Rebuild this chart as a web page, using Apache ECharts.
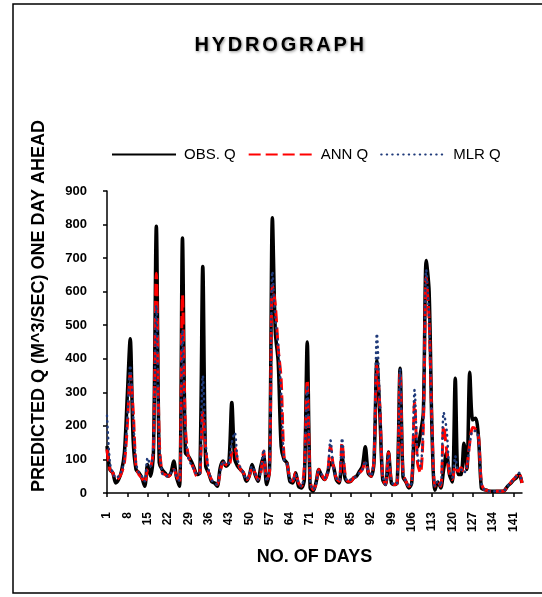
<!DOCTYPE html>
<html>
<head>
<meta charset="utf-8">
<script src="https://cdn.jsdelivr.net/npm/echarts@6/dist/echarts.min.js"></script>
<style>html,body{margin:0;padding:0;background:#fff}#c{width:542px;height:597px}</style>
</head>
<body>
<div id="c"></div>
<script>
var days = [];
for (var d = 1; d <= 144; d++) days.push(String(d));

var titleText = 'HYDROGRAPH';

var obsQ = [140,70,60,30,40,65,120,290,460,160,
70,60,45,20,85,50,120,795,90,70,
60,50,60,95,45,20,760,120,110,95,
75,55,60,675,80,60,35,30,20,75,
95,80,90,270,100,80,70,60,35,50,
85,55,35,80,110,25,70,820,480,390,
140,100,90,35,30,60,20,15,40,450,
15,5,30,70,50,40,60,90,80,40,
30,108,45,33,35,45,50,65,80,138,
60,50,90,395,240,40,25,122,30,25,
30,372,48,33,15,30,167,137,178,240,
693,600,180,8,33,15,70,120,55,33,
342,55,55,148,70,360,218,223,167,15,
10,8,5,5,5,5,5,8,20,28,
38,45,55,30];

var annQ = [130,70,60,40,45,60,90,200,355,250,
80,55,45,30,70,75,130,655,160,60,
55,50,55,70,50,30,590,200,110,90,
70,50,55,240,135,60,40,30,25,60,
90,85,80,120,135,95,70,60,40,50,
75,60,40,60,125,40,60,620,560,430,
340,110,90,45,35,60,30,20,80,337,
40,10,25,70,55,40,60,140,80,45,
35,150,60,35,35,45,50,60,70,92,
65,50,100,380,260,45,25,120,35,25,
30,360,60,35,20,30,270,90,60,200,
643,515,200,20,33,20,200,130,60,40,
80,65,75,62,80,150,195,190,170,30,
10,8,5,5,5,5,5,8,20,30,
40,50,60,30];

var mlrQ = [230,90,60,45,50,65,100,220,380,230,
90,60,50,35,105,80,140,560,150,60,
50,50,60,70,50,35,485,180,105,85,
70,55,60,350,150,70,40,30,25,65,
95,85,90,150,180,100,75,60,40,55,
80,60,40,65,130,35,70,660,520,440,
300,100,90,40,35,55,30,20,70,320,
35,10,25,65,55,45,60,157,75,45,
35,163,55,35,40,45,50,60,70,95,
65,50,110,475,270,50,25,115,35,25,
30,370,60,35,20,30,307,110,80,220,
665,520,190,20,35,20,240,190,70,45,
110,70,70,60,80,145,185,185,165,30,
10,8,5,5,5,5,5,8,20,30,
40,50,60,30];

var FONT = 'Liberation Sans, Arial, Helvetica, sans-serif';
var titleRich = titleText.split('').map(function (ch) { return '{l|' + ch + '}'; }).join('');
var chart = echarts.init(document.getElementById('c'), null, {renderer: 'canvas'});
chart.setOption({
  animation: false,
  backgroundColor: '#fff',
  title: {
    text: titleRich,
    left: 193, top: 35, padding: 0,
    textStyle: {
      rich: {
        l: {fontFamily: FONT, fontSize: 20, fontWeight: 'bold', color: '#000', padding: [0, 1.4, 0, 1.4],
            textShadowColor: 'rgba(0,0,0,0.45)', textShadowBlur: 3, textShadowOffsetX: 1, textShadowOffsetY: 1}
      }
    }
  },
  legend: {
    left: 111, top: 147, padding: 0,
    itemWidth: 64, itemHeight: 14, itemGap: 12,
    itemStyle: {opacity: 0},
    textStyle: {fontFamily: FONT, fontSize: 15, color: '#000', padding: [0, 0, 0, 3]},
    data: ['OBS. Q', 'ANN Q', 'MLR Q']
  },
  grid: {left: 107, top: 191, right: 20, bottom: 104, containLabel: false},
  xAxis: {
    type: 'category', data: days, boundaryGap: false,
    axisLine: {lineStyle: {color: '#000', width: 1.5}},
    axisTick: {interval: 6, length: 4, lineStyle: {color: '#000', width: 1.5}},
    axisLabel: {interval: 6, rotate: 90, margin: 19, fontFamily: FONT, fontSize: 12, fontWeight: 'bold', color: '#000'},
    name: 'NO. OF DAYS', nameLocation: 'middle', nameGap: 55,
    nameTextStyle: {fontFamily: FONT, fontSize: 18, fontWeight: 'bold', color: '#000'}
  },
  yAxis: {
    type: 'value', min: 0, max: 900, interval: 100,
    splitLine: {show: false},
    axisLine: {show: true, lineStyle: {color: '#000', width: 1.5}},
    axisTick: {show: true, length: 4, lineStyle: {color: '#000', width: 1.5}},
    axisLabel: {margin: 20, fontFamily: FONT, fontSize: 13, fontWeight: 'bold', color: '#000'}
  },
  graphic: [
    {type: 'rect', shape: {x: 13, y: 4, width: 560, height: 589}, style: {fill: 'none', stroke: '#000', lineWidth: 1.5}, silent: true, z: -1},
    {type: 'text', x: 39, y: 306, rotation: Math.PI / 2,
     style: {text: 'PREDICTED Q (M^3/SEC) ONE DAY AHEAD', fontFamily: FONT, fontSize: 18, fontWeight: 'bold', fill: '#000', textAlign: 'center', textVerticalAlign: 'middle'}}
  ],
  series: [
    {name: 'OBS. Q', type: 'line', data: obsQ, smooth: 0.3, symbol: 'none', z: 2,
     lineStyle: {color: '#000', width: 3.5}, itemStyle: {color: '#000'}},
    {name: 'ANN Q', type: 'line', data: annQ, smooth: 0.3, symbol: 'none', z: 3,
     lineStyle: {color: '#ff0000', width: 3, type: [12, 5]}, itemStyle: {color: '#ff0000'}},
    {name: 'MLR Q', type: 'line', data: mlrQ, smooth: 0.3, symbol: 'none', z: 4,
     lineStyle: {color: '#1f3a7a', width: 2.5, type: [0.5, 5], cap: 'round'}, itemStyle: {color: '#1f3a7a'}}
  ]
});
</script>
</body>
</html>
